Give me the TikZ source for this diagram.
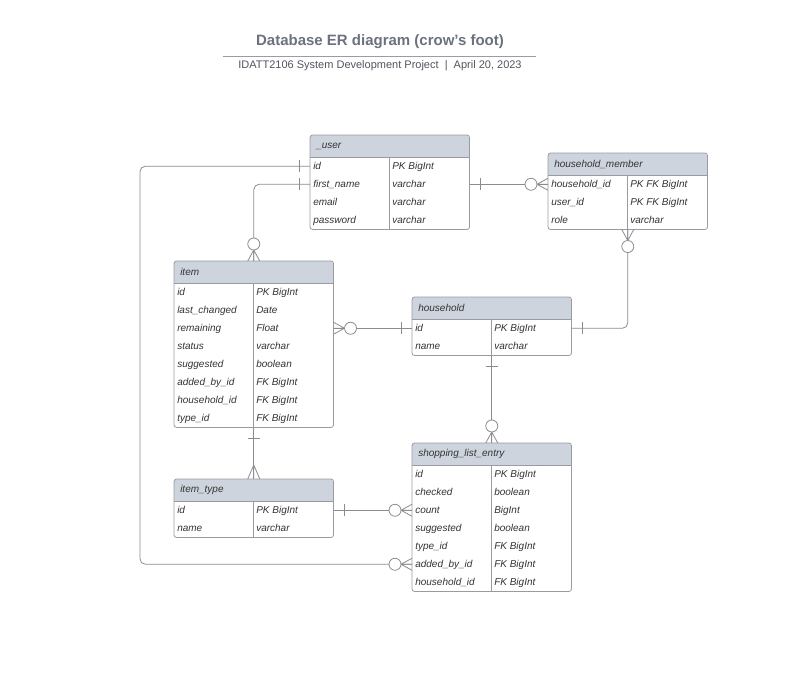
\documentclass[tikz,border=0pt]{standalone}
\usepackage{fontspec}
\setmainfont{Liberation Sans}
\usetikzlibrary{calc}

\definecolor{headfill}{RGB}{206,212,221}
\definecolor{tblgray}{RGB}{152,156,162}
\definecolor{conngray}{RGB}{140,140,144}
\definecolor{titlegray}{RGB}{108,114,125}
\definecolor{txtgray}{RGB}{51,51,51}

\tikzset{
  tblline/.style={draw=tblgray, line width=0.6pt},
  conn/.style={draw=conngray, line width=0.6pt},
  tblhead/.style={inner xsep=4.5pt, inner ysep=0pt, text width=110.25pt, align=left,
    minimum height=16.5pt, font=\fontsize{7.5}{9}\selectfont\itshape, text=txtgray},
  tblrow/.style={inner sep=0pt, minimum width=119.25pt, minimum height=13.5pt},
  fieldtxt/.style={inner sep=0pt, anchor=base west, font=\fontsize{7.5}{9}\selectfont\itshape, text=txtgray}
}

% table: name, x, y, rows, title, field/type list
\newcommand{\ertable}[6]{
  \begin{scope}
    \clip[rounded corners=2pt] (#2,#3) rectangle (#2+159,{#3+22+18*#4});
    \fill[headfill] (#2,#3) rectangle (#2+159,#3+22);
  \end{scope}
  \node[tblhead, anchor=north west] (#1) at (#2,#3) {#5};
  \foreach \fld/\typ [count=\i] in {#6}{
    \node[tblrow, anchor=north west] (#1-\i) at (#2,{#3+22+18*(\i-1)}) {};
    \node[fieldtxt] at ([xshift=2.25pt,yshift=-2.6pt]#1-\i.west) {\fld};
    \node[fieldtxt] at ([xshift=61.5pt,yshift=-2.6pt]#1-\i.west) {\typ};
  }
  \draw[tblline, rounded corners=2pt] (#1.north west) rectangle (#1-#4.south east);
  \draw[tblline] (#1.south west) -- (#1.south east);
  \draw[tblline] (#2+79,#3+22) -- (#2+79,{#3+22+18*#4});
}

% relationship ends, #2 = direction pointing away from the table
\newcommand{\onebar}[2]{
  \begin{scope}[shift={(#1)}, rotate=#2]
    \draw[conn] (11,-6) -- (11,6);
  \end{scope}
}
\newcommand{\manyend}[2]{
  \begin{scope}[shift={(#1)}, rotate=#2]
    \draw[conn] (14,0) -- (0,6) (14,0) -- (0,0) (14,0) -- (0,-6);
  \end{scope}
}
\newcommand{\zeromany}[2]{
  \begin{scope}[shift={(#1)}, rotate=#2]
    \draw[conn] (11,0) -- (0,6) (11,0) -- (0,0) (11,0) -- (0,-6);
    \draw[conn, fill=white] (17,0) circle (4.5pt);
  \end{scope}
}

\begin{document}
\begin{tikzpicture}[x=0.75pt, y=-0.75pt]
    \useasboundingbox (0,0) rectangle (794,698);
    \fill[white] (0,0) rectangle (794,698);

    % title
    \node[font=\fontsize{11.25}{13}\selectfont\bfseries, text=titlegray] (title) at (380,42) {Database ER diagram (crow's foot)};
    \draw[draw=titlegray!70, line width=0.6pt] (223,56) -- (536,56);
    \node[font=\fontsize{8.25}{10}\selectfont, text=titlegray!75!black] (subtitle) at (380,66) {IDATT2106 System Development Project~~|~~April 20, 2023};

    % tables
    \ertable{user}{310}{135}{4}{\_user}{id/PK BigInt, first\_name/varchar, email/varchar, password/varchar}
    \ertable{hhm}{548}{153}{3}{household\_member}{household\_id/PK FK BigInt, user\_id/PK FK BigInt, role/varchar}
    \ertable{item}{174}{261}{8}{item}{id/PK BigInt, last\_changed/Date, remaining/Float, status/varchar,
      suggested/boolean, added\_by\_id/FK BigInt, household\_id/FK BigInt, type\_id/FK BigInt}
    \ertable{hh}{412}{297}{2}{household}{id/PK BigInt, name/varchar}
    \ertable{itype}{174}{479}{2}{item\_type}{id/PK BigInt, name/varchar}
    \ertable{sle}{412}{443}{7}{shopping\_list\_entry}{id/PK BigInt, checked/boolean, count/BigInt,
      suggested/boolean, type\_id/FK BigInt, added\_by\_id/FK BigInt, household\_id/FK BigInt}

    % relationships
    \coordinate (lftrail) at (140,0);
    \draw[conn, rounded corners=4pt] (user-1.west) -- (user-1.west -| lftrail) -- (lftrail |- sle-6.west) -- (sle-6.west);
    \draw[conn, rounded corners=4pt] (user-2.west) -| (item.north);
    \draw[conn] (user-2.east) -- (hhm-1.west);
    \draw[conn, rounded corners=4pt] (hhm-3.south) |- (hh-1.east);
    \draw[conn] (item-3.east) -- (hh-1.west);
    \draw[conn] (hh-2.south) -- (sle.north);
    \draw[conn] (item-8.south) -- (itype.north);
    \draw[conn] (itype-1.east) -- (sle-3.west);

    \onebar{user-1.west}{180}
    \zeromany{sle-6.west}{180}
    \onebar{user-2.west}{180}
    \zeromany{item.north}{90}
    \onebar{user-2.east}{0}
    \zeromany{hhm-1.west}{180}
    \zeromany{hhm-3.south}{-90}
    \onebar{hh-1.east}{0}
    \zeromany{item-3.east}{0}
    \onebar{hh-1.west}{180}
    \onebar{hh-2.south}{-90}
    \zeromany{sle.north}{90}
    \onebar{item-8.south}{-90}
    \manyend{itype.north}{90}
    \onebar{itype-1.east}{0}
    \zeromany{sle-3.west}{180}
\end{tikzpicture}
\end{document}
